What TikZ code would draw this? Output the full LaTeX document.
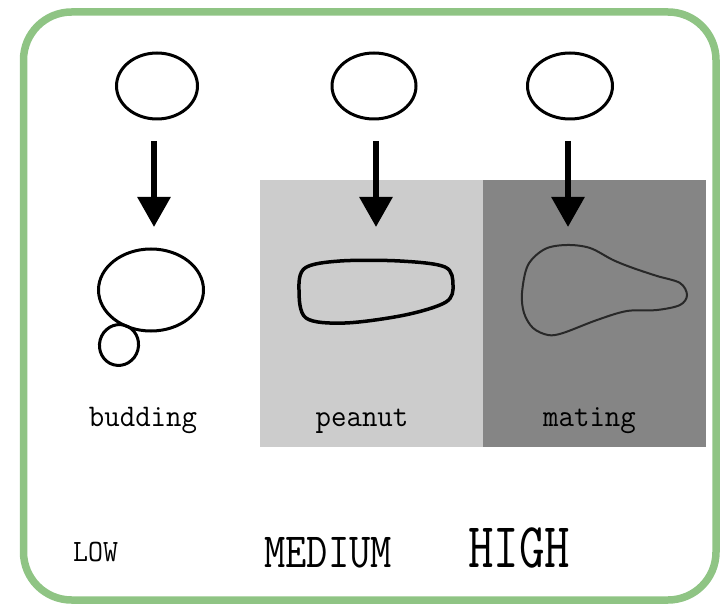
\documentclass[tikz,border=0pt]{standalone}
\usepackage{fontspec}
\usetikzlibrary{arrows.meta,shapes.geometric}
\definecolor{frame}{RGB}{143,196,132}
\definecolor{lightbox}{RGB}{204,204,204}
\definecolor{darkbox}{RGB}{133,133,133}
\definecolor{outline}{RGB}{40,40,40}
\newcommand{\stretchtext}[3]{\scalebox{1}[#2]{\fontsize{#1}{#1}\selectfont\ttfamily #3}}
\tikzset{
  cell/.style={draw=black, line width=3pt, ellipse, inner sep=0pt, outer sep=0pt},
  drop/.style={line width=6pt, -{Triangle[length=30pt,width=32pt]}, shorten <=22pt},
  phase/.style={anchor=base, inner sep=0pt},
  level/.style={anchor=base west, inner sep=0pt},
}
\begin{document}
\begin{tikzpicture}[x=1pt,y=-1pt]
\useasboundingbox (0,0) rectangle (720,604);
% frame
\draw[frame, line width=7.5pt, rounded corners=48pt] (23.5,12) rectangle (716,600);
% shaded background panels
\fill[lightbox] (260,180) rectangle (483,447);
\fill[darkbox] (483,180) rectangle (706,447);
% starting cells
\node[cell, minimum width=81pt, minimum height=66pt] (c1) at (157,86) {};
\node[cell, minimum width=84pt, minimum height=66pt] (c2) at (374,86) {};
\node[cell, minimum width=85pt, minimum height=66pt] (c3) at (570,86) {};
% arrow tips
\coordinate (t1) at (154,227);
\coordinate (t2) at (376,227);
\coordinate (t3) at (568,227);
\draw[drop] (c1.south -| t1) -- (t1);
\draw[drop] (c2.south -| t2) -- (t2);
\draw[drop] (c3.south -| t3) -- (t3);
% budding cell
\node[cell, minimum width=105pt, minimum height=82pt] (bud) at (151,290) {};
\node[cell, minimum width=39pt, minimum height=41pt, rotate=-15] (daughter) at (119,345) {};
% peanut cell
\draw[black, line width=3.5pt] plot[smooth cycle, tension=0.55] coordinates {
  (299,290) (305,268) (340,261) (400,261) (445,267) (453,285)
  (446,302) (405,315) (345,323) (306,318)};
% mating cell
\draw[outline, line width=2pt] plot[smooth cycle, tension=0.55] coordinates {
  (522,293) (528,265) (545,249) (567,245) (590,248) (613,260) (633,268)
  (657,276) (680,283) (687,295) (680,305) (657,310) (627,311) (597,320)
  (563,333) (548,335) (533,328) (524,313)};
% phase labels
\node[phase] (lb) at (143,426) {\stretchtext{30pt}{1.05}{budding}};
\node[phase] (lp) at (362,426) {\stretchtext{30pt}{1.05}{peanut}};
\node[phase] (lm) at (589.5,426) {\stretchtext{30pt}{1.05}{mating}};
% level labels
\node[level] (low) at (73,561) {\stretchtext{29pt}{1.07}{LOW}};
\node[level] (med) at (264,567) {\stretchtext{41.3pt}{1.19}{MEDIUM}};
\node[level] (high) at (468,567) {\stretchtext{49.5pt}{1.29}{HIGH}};
\end{tikzpicture}
\end{document}
